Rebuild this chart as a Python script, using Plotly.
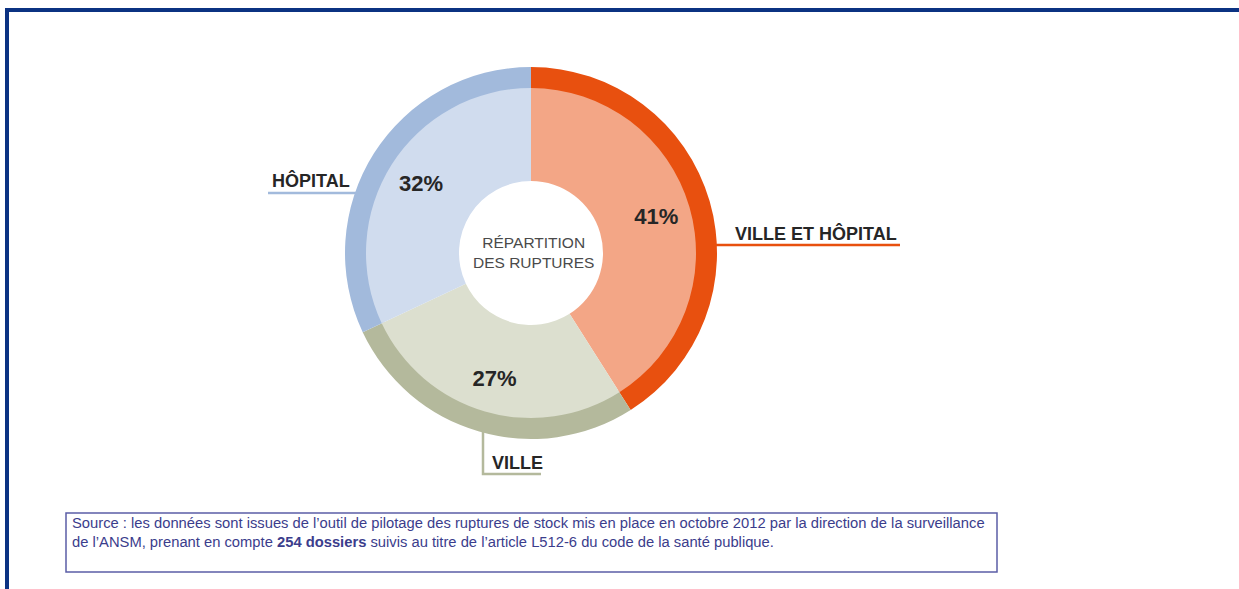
import plotly.graph_objects as go

W, H = 1239, 589

# data
categories = ["VILLE ET HÔPITAL", "VILLE", "HÔPITAL"]
values = [41, 27, 32]
ring_colors = ["#e8500f", "#b4b99c", "#a2badc"]
fill_colors = ["#f3a686", "#dcdfcf", "#d0dcee"]
centre_title = "RÉPARTITION<br>DES RUPTURES"
source_text = ("Source : les données sont issues de l’outil de pilotage des ruptures de stock mis en place "
               "en octobre 2012 par la direction de la surveillance<br>de l’ANSM, prenant en compte "
               "<b>254 dossiers</b> suivis au titre de l’article L512-6 du code de la santé publique.")

FONT = "Liberation Sans, Arial, sans-serif"


def px_x(x):
    return x / W


def px_y(y):
    return 1 - y / H


cx, cy = 531, 253
r_out, r_in, r_hole = 186, 165, 72


def dom(r):
    return dict(x=[px_x(cx - r), px_x(cx + r)], y=[px_y(cy + r), px_y(cy - r)])


fig = go.Figure()

# outer darker ring
fig.add_trace(go.Pie(
    labels=categories, values=values, sort=False, direction="clockwise", rotation=0,
    hole=(r_in - 2) / r_out,
    marker=dict(colors=ring_colors, line=dict(width=0)),
    textinfo="none", hoverinfo="none", showlegend=False,
    domain=dom(r_out),
))

# inner lighter fill with the hole
fig.add_trace(go.Pie(
    labels=categories, values=values, sort=False, direction="clockwise", rotation=0,
    hole=r_hole / r_in,
    marker=dict(colors=fill_colors, line=dict(width=0)),
    textinfo="none", hoverinfo="none", showlegend=False,
    domain=dom(r_in),
))

# transparent copy that only carries the percentages, set a bit further out
fig.add_trace(go.Pie(
    labels=categories, values=values, sort=False, direction="clockwise", rotation=0,
    hole=0.58,
    marker=dict(colors=["rgba(0,0,0,0)"] * 3, line=dict(width=0)),
    texttemplate="<b>%{value}%</b>", textposition="inside", insidetextorientation="horizontal",
    textfont=dict(family=FONT, size=22, color="#262626"),
    hoverinfo="none", showlegend=False,
    domain=dom(r_in),
))

shapes = []
annotations = []

# frame
frame = "#0b3282"
shapes.append(dict(type="line", xref="paper", yref="paper", x0=px_x(5), x1=1, y0=px_y(10), y1=px_y(10),
                   line=dict(color=frame, width=4)))
shapes.append(dict(type="line", xref="paper", yref="paper", x0=px_x(7), x1=px_x(7), y0=px_y(8), y1=0,
                   line=dict(color=frame, width=4)))

# label leader lines
shapes.append(dict(type="line", xref="paper", yref="paper", x0=px_x(268), x1=px_x(358), y0=px_y(193), y1=px_y(193),
                   line=dict(color=ring_colors[2], width=2.5)))
shapes.append(dict(type="line", xref="paper", yref="paper", x0=px_x(712), x1=px_x(900), y0=px_y(245), y1=px_y(245),
                   line=dict(color=ring_colors[0], width=2.5)))
shapes.append(dict(type="path", xref="paper", yref="paper",
                   path="M %f,%f L %f,%f L %f,%f" % (px_x(483), px_y(432), px_x(483), px_y(474), px_x(541), px_y(474)),
                   line=dict(color=ring_colors[1], width=2.5)))

annotations.append(dict(x=px_x(270), y=px_y(180), xref="paper", yref="paper", xanchor="left", yanchor="middle",
                        text="<b>%s</b>" % categories[2], showarrow=False,
                        font=dict(family=FONT, size=18, color="#262626")))
annotations.append(dict(x=px_x(733), y=px_y(234), xref="paper", yref="paper", xanchor="left", yanchor="middle",
                        text="<b>%s</b>" % categories[0], showarrow=False,
                        font=dict(family=FONT, size=18, color="#262626")))
annotations.append(dict(x=px_x(490), y=px_y(463), xref="paper", yref="paper", xanchor="left", yanchor="middle",
                        text="<b>%s</b>" % categories[1], showarrow=False,
                        font=dict(family=FONT, size=18, color="#262626")))

# centre text
annotations.append(dict(x=px_x(cx + 2), y=px_y(cy), xref="paper", yref="paper", xanchor="center", yanchor="middle",
                        text=centre_title, showarrow=False,
                        font=dict(family=FONT, size=15.5, color="#4a4a4a")))

# source box
shapes.append(dict(type="rect", xref="paper", yref="paper", x0=px_x(66), x1=px_x(997), y0=px_y(572), y1=px_y(513),
                   line=dict(color="#5b5ea6", width=1.5)))
annotations.append(dict(x=px_x(70), y=px_y(532), xref="paper", yref="paper", xanchor="left", yanchor="middle",
                        text=source_text, showarrow=False, align="left",
                        font=dict(family=FONT, size=14.75, color="#3b3d8c")))

fig.update_layout(
    width=W, height=H,
    margin=dict(l=0, r=0, t=0, b=0),
    paper_bgcolor="white", plot_bgcolor="white",
    shapes=shapes,
    annotations=annotations,
)

# drop the default body margin so the figure sits at the window's corner
fig.write_html("out.html", config={"displayModeBar": False},
               post_script="document.body.style.margin='0px';")
